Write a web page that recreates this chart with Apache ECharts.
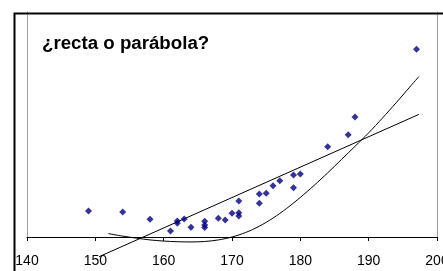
<!DOCTYPE html>
<html>
<head>
<meta charset="utf-8">
<script src="https://cdn.jsdelivr.net/npm/echarts@6/dist/echarts.min.js"></script>
<style>
  html, body { margin: 0; padding: 0; background: #fff; }
  #chart { width: 443px; height: 271px; }
</style>
</head>
<body>
<div id="chart"></div>
<script>
// datos
const xTicks = [140, 150, 160, 170, 180, 190, 200]
const pointsX = [149, 154, 158, 161, 162, 162, 163, 164, 166, 166, 166, 168, 169, 170, 171, 171, 171, 174, 174, 175, 176, 177, 179, 179, 180, 184, 187, 188, 197]
const pointsY = [11.6, 11.1, 7.9, 2.7, 7.1, 6.1, 8.0, 4.3, 7.0, 5.3, 4.2, 8.3, 7.6, 10.6, 16.0, 10.8, 9.3, 19.1, 15.0, 19.4, 22.8, 25.0, 27.6, 21.9, 28.0, 40.1, 45.5, 53.3, 83.4]
// recta (tendencia lineal)
const rectaX = [150.55, 197.35]
const rectaY = [-8.75, 54.5]
// parabola (tendencia polinomica)
const parabX = [151.9, 154, 156, 158, 160, 162, 164, 166, 168, 170, 172, 174, 176, 178, 180, 182, 184, 186, 188, 190, 192, 194, 196, 197.35]
const parabY = [1.5, 0.4, -0.5, -1.3, -1.8, -2.1, -2.2, -2.0, -1.3, 0.0, 2.0, 4.8, 8.4, 12.7, 17.6, 22.9, 28.5, 34.4, 40.3, 46.3, 52.8, 59.6, 66.6, 71.3]

const zip = (a, b) => a.map((v, i) => [v, b[i]])

const chart = echarts.init(document.getElementById('chart'))
const option = {
  animation: false,
  backgroundColor: '#fff',
  title: {
    text: '¿recta o parábola?',
    left: 37,
    top: 29,
    textStyle: {
      fontFamily: 'Liberation Sans',
      fontSize: 18.7,
      fontWeight: 'bold',
      color: '#000'
    }
  },
  // marco exterior: bordes superior e izquierdo
  graphic: [
    {
      type: 'polyline',
      left: 12,
      top: 11,
      z: 100,
      silent: true,
      shape: { points: [[0, 262], [0, 0], [432, 0]] },
      style: { fill: null, stroke: '#000', lineWidth: 2 }
    }
  ],
  grid: {
    left: 27,
    right: 6,
    top: 12,
    bottom: 34,
    containLabel: false,
    outerBoundsMode: 'none'
  },
  xAxis: {
    type: 'value',
    min: xTicks[0],
    max: xTicks[xTicks.length - 1],
    interval: 10,
    axisLine: { lineStyle: { color: '#000', width: 1 } },
    axisTick: { show: true, length: 4, lineStyle: { color: '#000' } },
    axisLabel: {
      margin: 17,
      fontFamily: 'Liberation Sans',
      fontSize: 14,
      color: '#000',
      showMaxLabel: true,
      showMinLabel: true
    },
    splitLine: { show: false }
  },
  yAxis: [
    {
      type: 'value',
      min: 0,
      max: 100,
      axisLine: { show: true, lineStyle: { color: '#a0a0a0' } },
      axisTick: { show: false },
      axisLabel: { show: false },
      splitLine: { show: false }
    },
    {
      type: 'value',
      position: 'right',
      min: 0,
      max: 100,
      axisLine: { show: true, lineStyle: { color: '#a0a0a0' } },
      axisTick: { show: false },
      axisLabel: { show: false },
      splitLine: { show: false }
    }
  ],
  series: [
    {
      name: 'recta',
      type: 'line',
      data: zip(rectaX, rectaY),
      showSymbol: false,
      clip: false,
      lineStyle: { color: '#000', width: 1 },
      z: 2
    },
    {
      name: 'parabola',
      type: 'line',
      data: zip(parabX, parabY),
      smooth: 0.3,
      showSymbol: false,
      clip: false,
      lineStyle: { color: '#000', width: 1 },
      z: 2
    },
    {
      name: 'datos',
      type: 'scatter',
      data: zip(pointsX, pointsY),
      symbol: 'diamond',
      symbolSize: 7,
      itemStyle: { color: '#000080' },
      z: 3
    }
  ]
}
chart.setOption(option)
</script>
</body>
</html>
